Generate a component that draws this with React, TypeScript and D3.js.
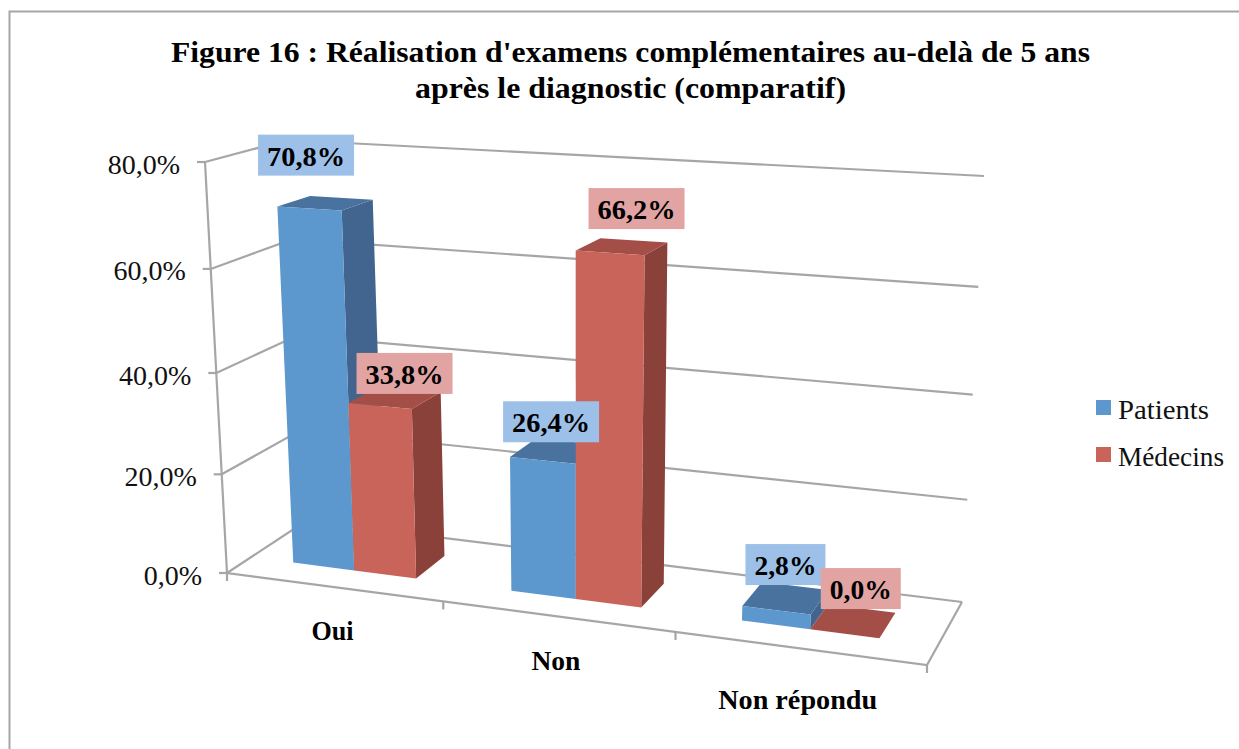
import React from "react";
import * as d3 from "d3";

const categories = ["Oui", "Non", "Non répondu"];
const seriesNames = ["Patients", "Médecins"];
const patients = [70.8, 26.4, 2.8];
const medecins = [33.8, 66.2, 0.0];
const seriesValues = [patients, medecins];
const yTicks = [0, 20, 40, 60, 80];
const titleLines = [
  "Figure 16 : Réalisation d'examens complémentaires au-delà de 5 ans",
  "après le diagnostic (comparatif)",
];

const GRID = "#a6a6a6";
const FONT = "'Liberation Serif',serif";
const faces = [
  { front: "#5c97cd", top: "#4a729f", side: "#41658f", label: "#9dc0e9" },
  { front: "#c9645b", top: "#a34f47", side: "#8a4139", label: "#e2a4a3" },
];

type Pt = [number, number];
// Projected corners of the 3D box: front-left, front-right, back-right, back-left
const floorQuad: Pt[] = [[227, 573], [927, 665], [962, 602], [306, 521]];
const ceilQuad: Pt[] = [[205, 162], [951, 203], [984, 176], [288, 140]];

function homography(q: Pt[]) {
  const [[x0, y0], [x1, y1], [x2, y2], [x3, y3]] = q;
  const sx = x0 - x1 + x2 - x3, sy = y0 - y1 + y2 - y3;
  const dx1 = x1 - x2, dx2 = x3 - x2, dy1 = y1 - y2, dy2 = y3 - y2;
  const den = dx1 * dy2 - dx2 * dy1;
  const g = (sx * dy2 - dx2 * sy) / den;
  const h = (dx1 * sy - sx * dy1) / den;
  return (u: number, w: number): Pt => {
    const d = g * u + h * w + 1;
    return [
      ((x1 - x0 + g * x1) * u + (x3 - x0 + h * x3) * w + x0) / d,
      ((y1 - y0 + g * y1) * u + (y3 - y0 + h * y3) * w + y0) / d,
    ];
  };
}
const floorH = homography(floorQuad);
const ceilH = homography(ceilQuad);
const valueFrac = d3.scaleLinear().domain([0, 80]).range([0, 1]);
const warp = (t: number) => t / (t + (1 - t) * 1.055);
const project = (u: number, w: number, v: number): Pt => {
  const t = warp(valueFrac(v));
  const a = floorH(u, w), b = ceilH(u, w);
  return [a[0] + (b[0] - a[0]) * t, a[1] + (b[1] - a[1]) * t];
};

const catScale = d3.scaleBand<string>().domain(categories).range([-0.005, 0.993]).paddingInner(0.43).paddingOuter(0.215);
const serScale = d3.scaleBand<string>().domain(seriesNames).range([0, catScale.bandwidth()]);
const W0 = 0.29, W1 = 0.7;

const pct = d3.formatLocale({ decimal: ",", thousands: " ", grouping: [3], currency: ["", "€"] }).format(".1f");
const poly = d3.line<Pt>().x((d) => d[0]).y((d) => d[1]);
const closed = (pts: Pt[]) => poly(pts) + "Z";

// Label nudges relative to the projected centre of each bar's top face
const labelNudge: Pt[][] = [
  [[-19, -48], [10, -24]],
  [[-4, -29], [15, -38]],
  [[0, -33.5], [8, -32.5]],
];
const catNudge: Pt[] = [[-3, 52.7], [-6, 53], [-4, 60.5]];
const catWidth = [42, 49, 159];
const legendWidth = [91, 106];

export default function App() {
  const bars = categories.flatMap((c, ci) =>
    seriesNames.map((s, si) => {
      const u0 = catScale(c)! + serScale(s)!;
      const u1 = u0 + serScale.bandwidth();
      const v = seriesValues[si][ci];
      return { ci, si, u0, u1, v };
    })
  );
  return (
    <svg width={1239} height={749} style={{ position: "absolute", left: 0, top: 0, background: "#fff" }}>
      <path d="M9.5,749V11.5H1239" fill="none" stroke={GRID} strokeWidth={2} />
      {titleLines.map((t, i) => (
        <text key={t} x={630.5} y={62 + i * 36} textAnchor="middle" fontFamily={FONT} fontWeight={700} fontSize={28.5}
          textLength={i === 0 ? 919 : 431} lengthAdjust="spacingAndGlyphs">{t}</text>
      ))}
      {/* walls */}
      <g fill="none" stroke={GRID} strokeWidth={2.2}>
        {yTicks.map((v) => (
          <path key={v} d={poly([project(0, 0, v), project(0, 1, v), project(1, 1, v)])!} />
        ))}
        <path d={poly([project(0, 0, 80), project(0, 0, 0), project(1, 0, 0), project(1, 1, 0)])!} />
        {yTicks.map((v) => {
          const p = project(0, 0, v);
          return <line key={v} x1={p[0] - 8} x2={p[0]} y1={p[1]} y2={p[1]} />;
        })}
        {d3.range(0, 4).map((i) => {
          const u = i === 0 || i === 3 ? i / 3 : -0.005 + catScale.step() * i;
          const p = project(u, 0, 0);
          return <line key={i} x1={p[0]} x2={p[0]} y1={p[1]} y2={p[1] + 8} />;
        })}
      </g>
      {yTicks.map((v) => {
        const p = project(0, 0, v);
        return (
          <text key={v} x={p[0] - 25} y={p[1] + 11.5} textAnchor="end" fontFamily={FONT} fontSize={28}
            fill="#111">{pct(v)}%</text>
        );
      })}
      {/* bars */}
      {bars.map(({ ci, si, u0, u1, v }) => {
        const fl = project(u0, W0, 0), fr = project(u1, W0, 0), br = project(u1, W1, 0);
        const tfl = project(u0, W0, v), tfr = project(u1, W0, v), tbr = project(u1, W1, v), tbl = project(u0, W1, v);
        const c = faces[si];
        return (
          <g key={`${ci}-${si}`}>
            <path d={closed([fr, br, tbr, tfr])} fill={c.side} />
            <path d={closed([tfl, tfr, tbr, tbl])} fill={c.top} />
            <path d={closed([fl, fr, tfr, tfl])} fill={c.front} />
          </g>
        );
      })}
      {/* value labels */}
      {bars.map(({ ci, si, u0, u1, v }) => {
        const a = project(u0, W0, v), b = project(u1, W1, v);
        const n = labelNudge[ci][si];
        const cx = (a[0] + b[0]) / 2 + n[0], cy = (a[1] + b[1]) / 2 + n[1];
        const bw = v < 10 ? 80 : 96;
        return (
          <g key={`l${ci}-${si}`}>
            <rect x={cx - bw / 2} y={cy - 20.5} width={bw} height={41} fill={faces[si].label} />
            <text x={cx} y={cy + 10.5} textAnchor="middle" fontFamily={FONT} fontWeight={700} fontSize={27.5}
              textLength={bw - 18} lengthAdjust="spacingAndGlyphs">{pct(v)}%</text>
          </g>
        );
      })}
      {/* category labels */}
      {categories.map((c, i) => {
        const p = project((i + 0.5) / 3, 0, 0);
        return (
          <text key={c} x={p[0] + catNudge[i][0]} y={p[1] + catNudge[i][1]} textAnchor="middle" fontFamily={FONT} fontWeight={700} fontSize={26.5}
            textLength={catWidth[i]} lengthAdjust="spacingAndGlyphs">{c}</text>
        );
      })}
      {/* legend */}
      {seriesNames.map((s, i) => (
        <g key={s} transform={`translate(1096,${400 + i * 47})`}>
          <rect width={15} height={15} fill={faces[i].front} />
          <text x={22} y={19} fontFamily={FONT} fontSize={27} fill="#111" textLength={legendWidth[i]} lengthAdjust="spacingAndGlyphs">{s}</text>
        </g>
      ))}
    </svg>
  );
}
